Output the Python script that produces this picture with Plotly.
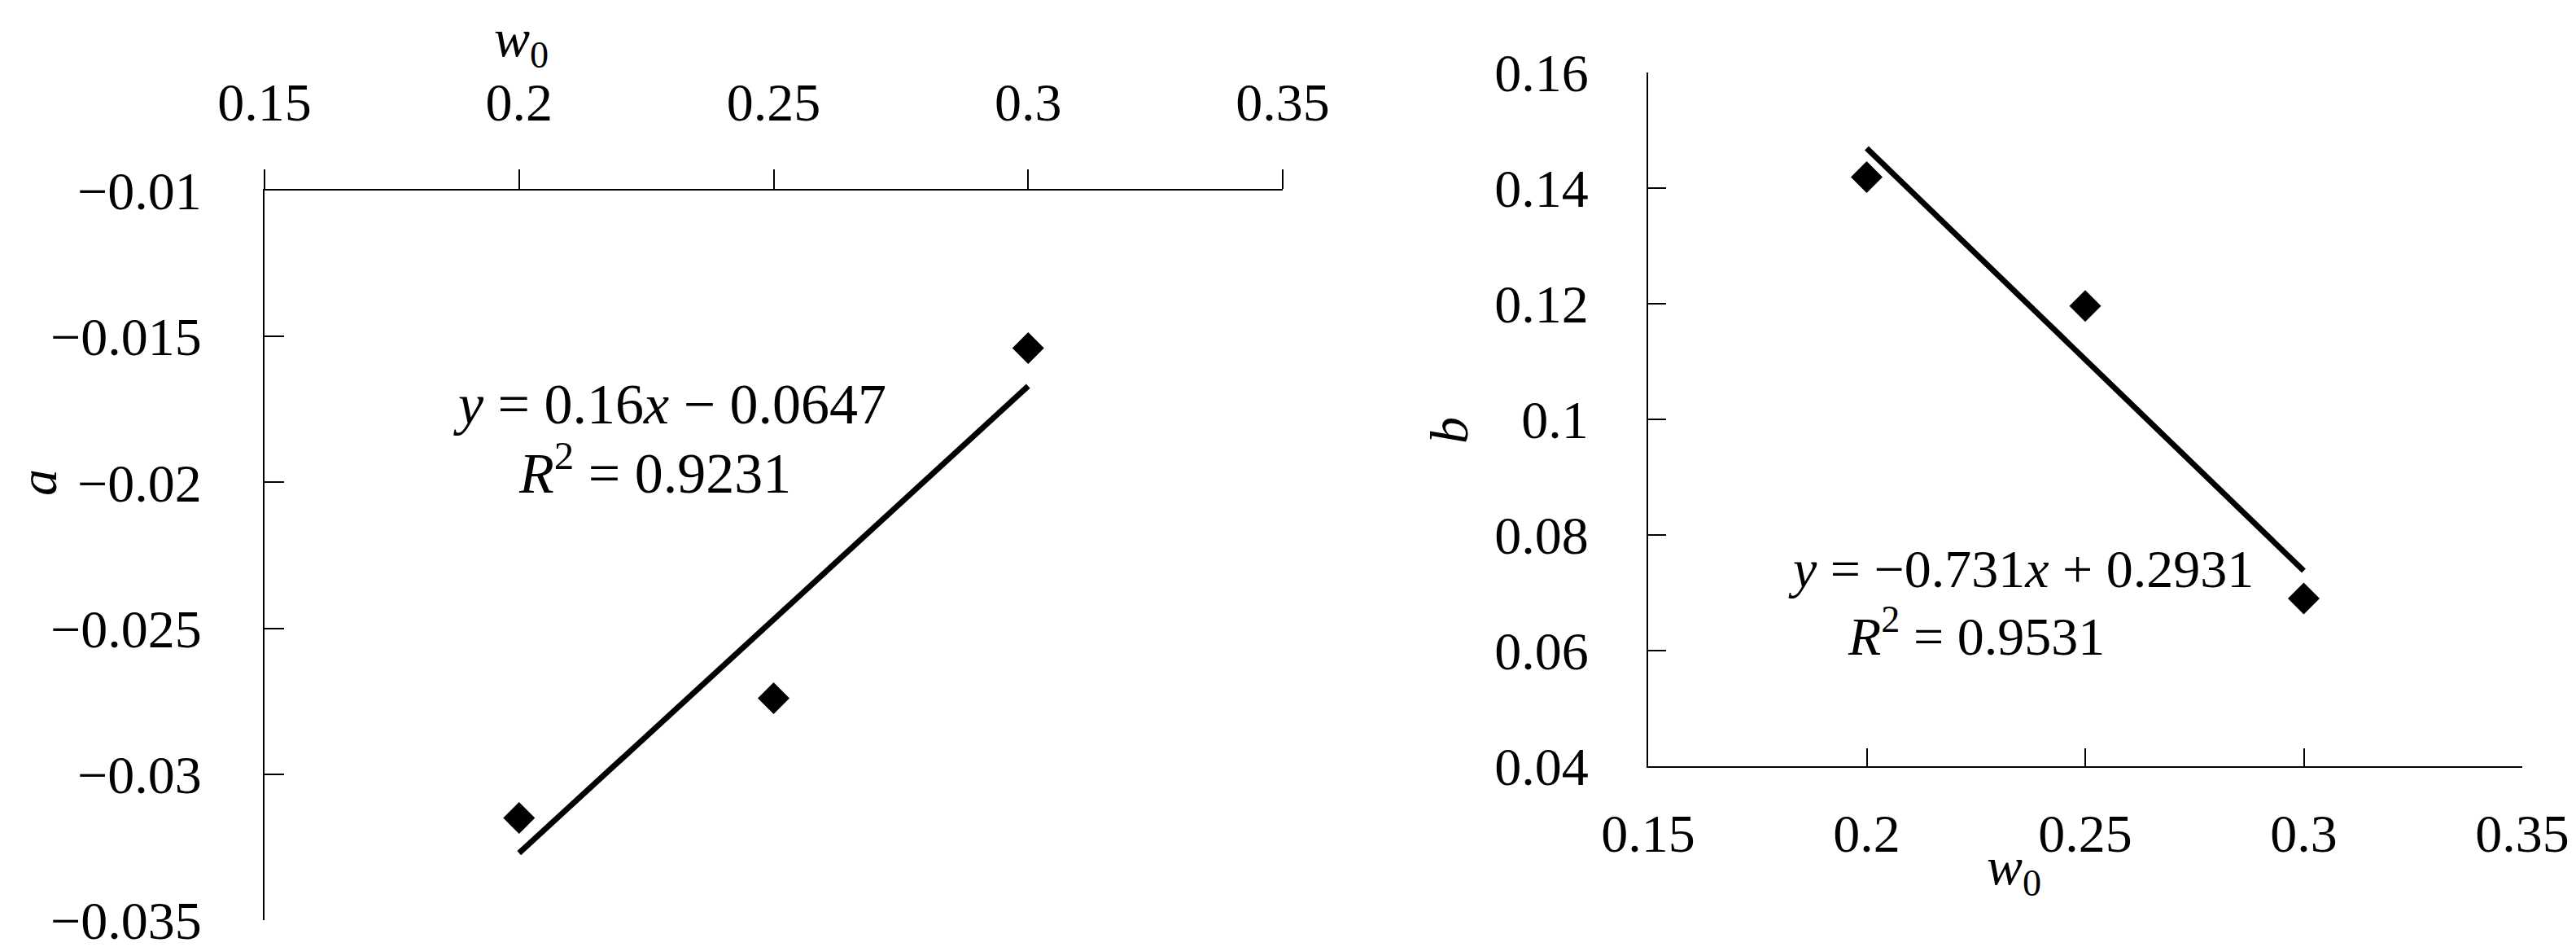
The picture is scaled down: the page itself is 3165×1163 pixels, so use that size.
import plotly.graph_objects as go

# -----------------------------------------------------------------------------
# Data
# -----------------------------------------------------------------------------
w0 = [0.2, 0.25, 0.3]
a_values = [-0.0315, -0.0274, -0.0154]
b_values = [0.1419, 0.1196, 0.0690]

# Linear trendlines as printed on the chart (slope, intercept)
a_fit = (0.16, -0.0647)
b_fit = (-0.731, 0.2931)
fit_x = [0.2, 0.3]

x_ticks = [0.15, 0.2, 0.25, 0.3, 0.35]
x_ticktext = ["0.15", "0.2", "0.25", "0.3", "0.35"]
a_ticks = [-0.035, -0.03, -0.025, -0.02, -0.015, -0.01]
a_ticktext = ["\u22120.035", "\u22120.03", "\u22120.025", "\u22120.02", "\u22120.015", "\u22120.01"]
b_ticks = [0.04, 0.06, 0.08, 0.1, 0.12, 0.14, 0.16]
b_ticktext = ["0.04", "0.06", "0.08", "0.1", "0.12", "0.14", "0.16"]

W, H = 3165, 1163
FONT = "Liberation Serif"
FS = 66


def px(x, y):
    """pixel position -> paper coords"""
    return x / W, 1 - y / H


fig = go.Figure()

# left panel: a vs w0
fig.add_trace(go.Scatter(
    x=w0, y=a_values, mode="markers",
    marker=dict(symbol="diamond", size=30, color="black"),
    xaxis="x", yaxis="y", showlegend=False,
))
fig.add_trace(go.Scatter(
    x=fit_x, y=[a_fit[0] * x + a_fit[1] for x in fit_x], mode="lines",
    line=dict(color="black", width=7),
    xaxis="x", yaxis="y", showlegend=False,
))

# right panel: b vs w0
fig.add_trace(go.Scatter(
    x=w0, y=b_values, mode="markers",
    marker=dict(symbol="diamond", size=30, color="black"),
    xaxis="x2", yaxis="y2", showlegend=False,
))
fig.add_trace(go.Scatter(
    x=fit_x, y=[b_fit[0] * x + b_fit[1] for x in fit_x], mode="lines",
    line=dict(color="black", width=7),
    xaxis="x2", yaxis="y2", showlegend=False,
))

axis_common = dict(
    showgrid=False, zeroline=False, showline=True, linecolor="black",
    linewidth=2, tickcolor="black", tickwidth=2, ticklen=24,
    tickfont=dict(family=FONT, size=FS, color="black"),
    automargin=False, fixedrange=True,
)

fig.update_layout(
    width=W, height=H,
    margin=dict(l=0, r=0, t=0, b=0),
    paper_bgcolor="white", plot_bgcolor="white",
    font=dict(family=FONT, size=FS, color="black"),
    xaxis=dict(
        axis_common, domain=[317 / W, 1568 / W], range=[0.15, 0.35],
        side="top", anchor="y", ticks="outside",
        tickvals=x_ticks, ticktext=x_ticktext, ticklabelstandoff=34,
    ),
    yaxis=dict(
        axis_common, domain=[1 - 1122 / H, 1 - 226 / H], range=[-0.035, -0.01],
        anchor="x", ticks="inside",
        tickvals=a_ticks, ticktext=a_ticktext, ticklabelstandoff=62,
    ),
    xaxis2=dict(
        axis_common, domain=[2017 / W, 3091 / W], range=[0.15, 0.35],
        side="bottom", anchor="y2", ticks="inside", ticklen=22,
        tickvals=x_ticks, ticktext=x_ticktext, ticklabelstandoff=24,
    ),
    yaxis2=dict(
        axis_common, domain=[1 - 933 / H, 1 - 81 / H], range=[0.04, 0.16],
        anchor="x2", ticks="inside", ticklen=22,
        tickvals=b_ticks, ticktext=b_ticktext, ticklabelstandoff=58,
    ),
)

notes = [
    (815, 488, "<i>y</i> = 0.16<i>x</i> \u2212 0.0647", 0, 70),
    (797, 568, "<i>R</i><sup>2</sup> = 0.9231", 0, 70),
    (2475, 690, "<i>y</i> = \u22120.731<i>x</i> + 0.2931", 0, 66),
    (2420, 768, "<i>R</i><sup>2</sup> = 0.9531", 0, 66),
    (632, 44, "<i>w</i><sub>0</sub>", 0, FS),
    (2466, 1060, "<i>w</i><sub>0</sub>", 0, FS),
    (38, 585, "<i>a</i>", -90, FS),
    (1772, 521, "<i>b</i>", -90, FS),
]
for x, y, text, ang, size in notes:
    ax, ay = px(x, y)
    fig.add_annotation(
        x=ax, y=ay, xref="paper", yref="paper", text=text, showarrow=False,
        textangle=ang, xanchor="center", yanchor="middle", borderpad=0,
        font=dict(family=FONT, size=size, color="black"),
    )

fig.write_html("out.html")
